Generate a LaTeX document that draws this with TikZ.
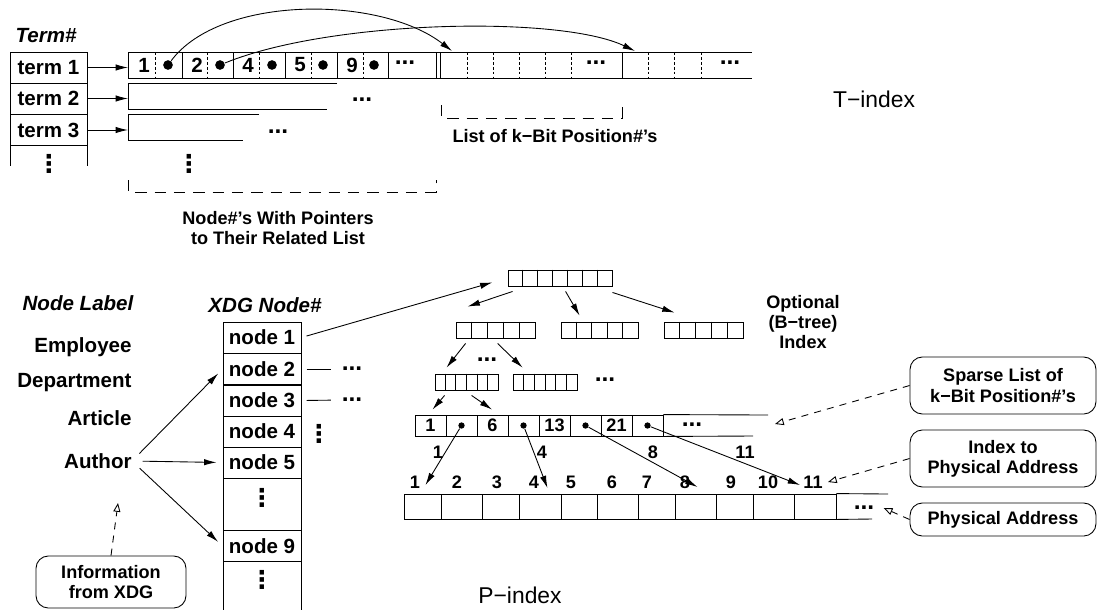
\documentclass[tikz,border=0pt]{standalone}
\usepackage{fontspec}
\setmainfont{Liberation Sans}
\newfontfamily\symfont{DejaVu Sans}
\usetikzlibrary{arrows.meta,calc}
\tikzstyle{big}=[font=\fontsize{11.7}{13}\selectfont\bfseries, inner sep=0pt]
\tikzstyle{small}=[font=\fontsize{10.3}{11.6}\selectfont\bfseries, inner sep=0pt, align=center]
\tikzstyle{hd}=[font=\fontsize{11.7}{13}\selectfont\bfseries\itshape, inner sep=0pt]
\tikzstyle{idx}=[font=\fontsize{13}{15}\selectfont, inner sep=0pt]
\tikzstyle{ell}=[font=\fontsize{14}{14}\selectfont\bfseries, inner sep=0pt]
\tikzstyle{vdots}=[font=\fontsize{14}{14}\selectfont\symfont\bfseries, inner sep=0pt]
\tikzstyle{tcell}=[draw, big, minimum width=1.56cm, minimum height=0.62cm]
\tikzstyle{kblock}=[draw, minimum height=0.32cm, inner sep=0pt]
\tikzstyle{scell}=[draw, small, minimum width=0.62cm, minimum height=0.42cm]
\tikzstyle{pcell}=[draw, minimum height=0.5cm, inner sep=0pt]
\tikzstyle{ptr}=[circle, fill, inner sep=0pt, minimum size=5.5pt]
\tikzstyle{sptr}=[circle, fill, inner sep=0pt, minimum size=3.6pt]
\tikzstyle{note}=[draw, rounded corners=7pt, small, minimum width=3.72cm]
\tikzstyle{link}=[draw, -{Latex[length=7pt,width=3.6pt]}]
\tikzstyle{hint}=[draw, dash pattern=on 4pt off 3.5pt, -{Triangle[open,length=5pt,width=4pt]}]
\tikzstyle{midline}=[dash pattern=on 1.6pt off 1.2pt]
\tikzstyle{bracket}=[dash pattern=on 6.5pt off 4.5pt]
% a row of key cells
\newcommand{\keyblock}[4]{%
  \node[kblock, minimum width=#4cm] (#1) at #2 {};
  \pgfmathtruncatemacro{\lastcell}{#3-1}
  \foreach \i in {1,...,\lastcell}
    \draw ($(#1.north west)!{\i/#3}!(#1.north east)$) -- ($(#1.south west)!{\i/#3}!(#1.south east)$);
}

\begin{document}
\begin{tikzpicture}[x=0.02cm, y=-0.02cm, line width=0.5pt]
    \useasboundingbox (0,0) rectangle (1097,610);

    % T-index: the term table
    \node[hd] (termhd) at (46,36) {Term\#};
    \foreach \pos/\name/\txt in {{(48.5,67.5)/t1/term 1}, {(48.5,98.5)/t2/term 2}, {(48.5,130)/t3/term 3}}
        \node[tcell, minimum width=1.54cm] (\name) at \pos {\txt};
    \draw (10,146) -- (10,166) (87,146) -- (87,166);
    \node[vdots] (tdots) at (49,164) {⋮};

    % heads of the lists
    \foreach \y/\name in {67.5/h1, 98.5/h2, 130/h3}
        \coordinate (\name) at (128,\y);
    \foreach \source/\dest in {t1/h1, t2/h2, t3/h3}
        \draw[link] (\source.east) -- (\dest);

    % list of term 1
    \draw (128,52) -- (752,52) (128,78) -- (752,78);
    \foreach \x in {128,182,233,285,337,388,436,440,622}
        \draw (\x,52) -- (\x,78);
    \foreach \x in {155,207,259,311,363,467,493,519,545,571,648,674,701}
        \draw[midline] (\x,52) -- (\x,78);
    \foreach \x/\v in {144/1, 197/2, 248/4, 300/5, 352/9}
        \node[big] (k\v) at (\x,65) {\v};
    \foreach \x/\v in {168/1, 220/2, 272/4, 323/5, 374/9}
        \node[ptr] (p\v) at (\x,65) {};
    \node[ell] (more1) at (405,63) {...};
    \node[ell] (more2) at (596,63) {...};
    \node[ell] (more3) at (730,63) {...};
    \coordinate (b1) at (452,51);
    \coordinate (b2) at (635,51);
    \draw[link] (p1) .. controls (220,-5) and (380,-5) .. (b1);
    \draw[link] (p2) .. controls (330,20) and (560,15) .. (b2);

    % lists of term 2 and term 3
    \draw (337,83) -- (128,83) -- (128,109) -- (327,109);
    \node[ell] (more4) at (362,100) {...};
    \draw (259,114) -- (128,114) -- (128,140) -- (243,140);
    \node[ell] (more5) at (278,132) {...};
    \node[vdots] (ldots) at (189,164) {⋮};

    % brackets and their texts
    \draw[bracket] (128,180) -- (128,192) -- (436,192) -- (436,180);
    \node[small] (nodelbl) at (278,228) {Node\#'s With Pointers\\to Their Related List};
    \draw[bracket] (441,105) -- (441,118) -- (622,118) -- (622,105);
    \node[small] (poslbl) at (555,136) {List of k−Bit Position\#'s};
    \node[idx] (tidx) at (874,99) {T−index};

    % P-index: labels and XDG nodes
    \node[hd] (lblhd) at (78,303) {Node Label};
    \foreach \y/\name/\txt in {347/emp/Employee, 383/dept/Department, 418/art/Article, 461/auth/Author}
        \node[big, anchor=east] (\name) at (132,\y) {\txt};
    \node[hd] (xdghd) at (265,305) {XDG Node\#};
    \foreach \y/\name/\txt in {337.5/n1/node 1, 369/n2/node 2, 400.5/n3/node 3, 431.5/n4/node 4, 462.5/n5/node 5, 546/n9/node 9}
        \node[tcell] (\name) at (262,\y) {\txt};
    \draw (223,478) -- (223,530) (301,478) -- (301,530);
    \draw (223,562) -- (223,610) (301,562) -- (301,610);
    \node[vdots] (ndots1) at (262,498) {⋮};
    \node[vdots] (ndots2) at (262,580) {⋮};
    \foreach \dest in {n2, n5, n9}
        \draw[link, shorten <=6pt, shorten >=3.5pt] (auth.east) -- (\dest.west);
    \node[ell] (d2) at (352,369) {...};
    \node[ell] (d3) at (352,400) {...};
    \draw[shorten <=3pt, shorten >=6pt] (n2.east) -- (d2.west);
    \draw[shorten <=3pt, shorten >=6pt] (n3.east) -- (d3.west);
    \node[vdots] (d4) at (319,434) {⋮};

    % optional B-tree
    \keyblock{root}{(560,278)}{7}{2.08}
    \keyblock{bt1}{(495.5,330)}{5}{1.58}
    \keyblock{bt2}{(599.5,330)}{5}{1.54}
    \keyblock{bt3}{(703.5,330)}{5}{1.58}
    \keyblock{bt4}{(466.5,382)}{6}{1.26}
    \keyblock{bt5}{(545,382)}{6}{1.28}
    \node[ell] (bdots1) at (487,360) {...};
    \node[ell] (bdots2) at (605,380) {...};
    \node[small] (optlbl) at (803,322) {Optional\\(B−tree)\\Index};

    % sparse list
    \foreach \i/\v in {1/1, 2/, 3/6, 4/, 5/13, 6/, 7/21, 8/}
        \node[scell] (sp\i) at (399.5+31*\i,425.5) {\v};
    \draw (sp8.north east) -- (768,415);
    \draw (sp8.south east) -- (753,436);
    \node[ell] (spdots) at (692,425) {...};
    \foreach \i/\c in {1/2, 2/4, 3/6, 4/8}
        \node[sptr] (sd\i) at (sp\c) {};

    % tree edges
    \draw[link, shorten <=3pt, shorten >=9pt] (n1.east) -- (root.west);
    \draw[link] ($(root.south west)+(5,5)$) -- ($(bt1.north west)+(12,-15)$);
    \draw[link] ($(root.south west)+(58,5)$) -- ($(bt2.north west)+(19,-6)$);
    \draw[link] ($(root.south east)+(0,6)$) -- ($(bt3.north west)+(11,-9)$);
    \draw[link] ($(bt1.south west)+(10,5)$) -- ($(bt4.north west)+(12,-6)$);
    \draw[link] ($(bt1.south west)+(42,5)$) -- ($(bt5.north west)+(10,-6)$);
    \draw[link] ($(bt4.south west)+(10,5)$) -- ($(sp1.north)+(2,-5)$);
    \draw[link] ($(bt4.south west)+(37,5)$) -- ($(sp3.north)+(-0.5,-5)$);

    % physical array
    \foreach \i/\l/\r in {1/404/441, 2/441/482, 3/482/519, 4/519/561, 5/561/597, 6/597/638, 7/638/675, 8/675/716, 9/716/753, 10/753/794, 11/794/836} {
        \pgfmathsetmacro{\w}{(\r-\l)*0.02}
        \node[pcell, minimum width=\w cm] (pa\i) at ({(\l+\r)/2},506.5) {};
    }
    \draw (pa11.north east) -- (888,494);
    \draw (pa11.south east) -- (872,519);
    \node[ell] (pdots) at (864,508) {...};
    \foreach \i/\x in {1/415, 2/457, 3/497, 4/534, 5/571, 6/612, 7/647, 8/685, 9/731, 10/768, 11/813}
        \node[small] (num\i) at (\x,482) {\i};
    \foreach \x/\v in {438/1, 542/4, 653/8, 745/11}
        \node[small] (gap\v) at (\x,452) {\v};
    \draw[link] (sd1) -- ($(num1.east)+(5,3)$);
    \draw[link] (sd2) -- ($(num4.east)+(8,6)$);
    \draw[link] (sd3) -- ($(num8.east)+(7,5)$);
    \draw[link] (sd4) -- ($(num11.west)+(-3,3)$);
    \node[idx] (pidx) at (520,595) {P−index};

    % callouts
    \node[note, minimum height=1.14cm] (spnote) at (1003,385.5) {Sparse List of\\k−Bit Position\#'s};
    \node[note, minimum height=1.14cm] (ixnote) at (1003,458.5) {Index to\\Physical Address};
    \node[note, minimum height=0.66cm] (panote) at (1003,519.5) {Physical Address};
    \node[note, minimum width=3cm, minimum height=1.04cm] (infonote) at (111,582) {Information\\from XDG};
    \coordinate (sptip) at (775,424);
    \coordinate (infotip) at (118,503);
    \draw[hint] (spnote.west) -- (sptip);
    \draw[hint] (ixnote.west) -- ($(num11.east)+(5,0)$);
    \draw[hint] (panote.west) -- ($(pdots.east)+(9,0)$);
    \draw[hint] (infonote.north) -- (infotip);
\end{tikzpicture}
\end{document}
